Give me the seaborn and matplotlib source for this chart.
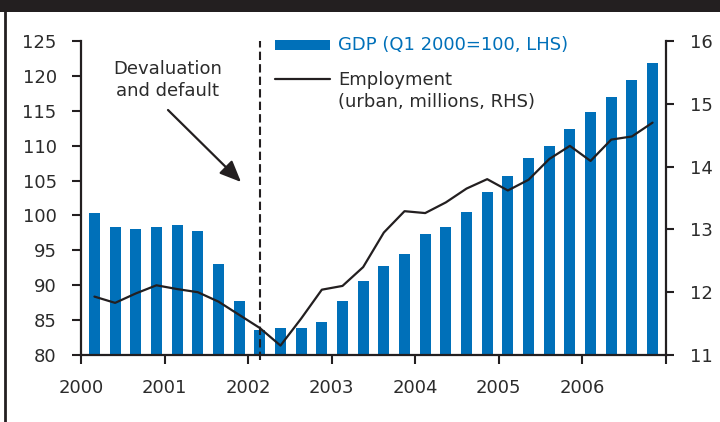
import numpy as np
import pandas as pd
import matplotlib
matplotlib.use("Agg")
import matplotlib.pyplot as plt
import seaborn as sns
from matplotlib.patches import Rectangle
from matplotlib.lines import Line2D

# ---- data ----
quarters = [f"{y}Q{q}" for y in range(2000, 2007) for q in range(1, 5)]
gdp = [100.4, 98.4, 98.0, 98.4, 98.7, 97.7, 93.1, 87.8,
       83.6, 83.9, 83.9, 84.7, 87.8, 90.6, 92.8, 94.5,
       97.4, 98.4, 100.5, 103.4, 105.7, 108.2, 110.0, 112.4,
       114.8, 117.0, 119.4, 121.9]
employment = [11.93, 11.83, 11.98, 12.11, 12.05, 12.00, 11.85, 11.64,
              11.43, 11.15, 11.58, 12.04, 12.10, 12.40, 12.95, 13.29,
              13.26, 13.43, 13.65, 13.80, 13.62, 13.79, 14.12, 14.33,
              14.09, 14.43, 14.48, 14.70]
year_labels = ["2000", "2001", "2002", "2003", "2004", "2005", "2006", ""]
left_ticks = [80, 85, 90, 95, 100, 105, 110, 115, 120, 125]
right_ticks = [11, 12, 13, 14, 15, 16]
event_quarter = "2002Q1"
gdp_label = "GDP (Q1 2000=100, LHS)"
emp_label_1 = "Employment"
emp_label_2 = "(urban, millions, RHS)"
annotation = ["Devaluation", "and default"]

df = pd.DataFrame({"quarter": quarters, "gdp": gdp, "emp": employment})
df["pos"] = np.arange(len(df))

# ---- style ----
sns.set_style("white")
plt.rcParams["font.family"] = ["DejaVu Sans"]
FS = 13
BLUE = "#0070b9"
DARK = "#231f20"
TXT = "#2b2b2b"

W, H = 720, 422
fig = plt.figure(figsize=(7.2, 4.22), dpi=100)
fx = lambda px: px / W
fy = lambda py: 1 - py / H

ax = fig.add_axes([fx(81), fy(355), (666 - 81) / W, (355 - 41) / H])
sns.barplot(data=df, x="quarter", y="gdp", color=BLUE, saturation=1,
            width=0.53, linewidth=0, ax=ax, zorder=2)
ax2 = ax.twinx()
sns.lineplot(data=df, x="pos", y="emp", ax=ax2, color=DARK, lw=1.6)

ax.set_xlim(-0.65, 27.65)
ax.set_ylim(80, 125)
ax2.set_ylim(11, 16)
lo, hi = ax.get_xlim()
ax.set_xticks(np.linspace(lo, hi, len(year_labels)))
ax.set_xticklabels(year_labels)
ax.set_yticks(left_ticks)
ax2.set_yticks(right_ticks)
for a in (ax, ax2):
    a.set_xlabel("")
    a.set_ylabel("")
    for s in a.spines.values():
        s.set_color(DARK)
        s.set_linewidth(1.6)
ax.spines["top"].set_visible(False)
ax.spines["right"].set_visible(False)
for k in ("top", "left", "bottom"):
    ax2.spines[k].set_visible(False)

ax.tick_params(axis="y", direction="out", length=6.5, width=1.5,
               color=DARK, labelcolor=TXT, labelsize=FS, pad=11, left=True)
ax.tick_params(axis="x", direction="out", length=6.5, width=1.5,
               color=DARK, labelcolor=TXT, labelsize=FS, pad=11, bottom=True)
ax2.tick_params(axis="y", direction="out", length=6, width=1.5, color=DARK,
                labelcolor=TXT, labelsize=FS, pad=11, right=True, left=False)
ax2.tick_params(axis="x", bottom=False, labelbottom=False)

# event line
ev = quarters.index(event_quarter)
ax.axvline(ev, ymin=-0.017, ymax=1.0, color=DARK, lw=1.5, ls=(0, (4, 2)),
           clip_on=False, zorder=3)

# legend (manual)
fig.add_artist(Rectangle((fx(275), fy(50)), 55 / W, 10 / H,
                         transform=fig.transFigure, color=BLUE, lw=0))
fig.add_artist(Line2D([fx(275), fx(330)], [fy(79), fy(79)],
                      transform=fig.transFigure, color=DARK, lw=1.6))
fig.text(fx(338), fy(50.5), gdp_label, color=BLUE, fontsize=FS, va="baseline")
fig.text(fx(338), fy(85), emp_label_1, color=TXT, fontsize=FS, va="baseline")
fig.text(fx(338), fy(107), emp_label_2, color=TXT, fontsize=FS, va="baseline")

# annotation
fig.text(fx(167.5), fy(74), annotation[0], color=TXT, fontsize=FS,
         ha="center", va="baseline")
fig.text(fx(167.5), fy(96.5), annotation[1], color=TXT, fontsize=FS,
         ha="center", va="baseline")
ax.annotate("", xy=(fx(241), fy(182)), xytext=(fx(168), fy(110)),
            xycoords="figure fraction", textcoords="figure fraction",
            arrowprops=dict(arrowstyle="-|>,head_length=0.65,head_width=0.28",
                            mutation_scale=20, color=DARK, lw=1.6,
                            shrinkA=0, shrinkB=0))

# frame decorations
fig.add_artist(Rectangle((0, fy(12)), 1, 12 / H, transform=fig.transFigure,
                         color=DARK, lw=0))
fig.add_artist(Line2D([fx(4.7), fx(4.7)], [0, 1], transform=fig.transFigure,
                      color=DARK, lw=2.0))

fig.savefig("out.png", dpi=100)
